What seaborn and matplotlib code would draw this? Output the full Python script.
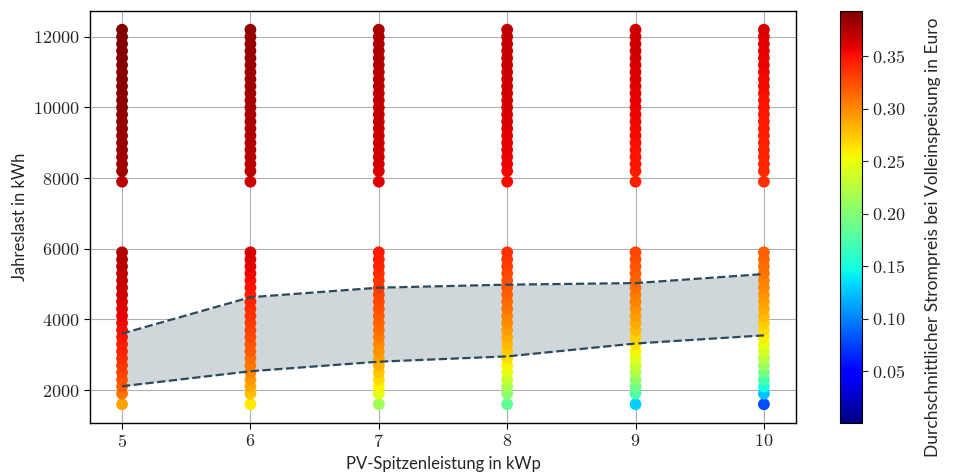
import matplotlib
matplotlib.use("Agg")
import matplotlib.pyplot as plt
import matplotlib.ticker as mticker
import numpy as np
import pandas as pd
import seaborn as sns

# ---- data ----
pv_sizes = [5, 6, 7, 8, 9, 10]

loads = [1600, 1900, 2100, 2300, 2500, 2700, 2900, 3100, 3300, 3500, 3700,
         3900, 4100, 4300, 4500, 4700, 4900, 5100, 5300, 5500, 5700, 5900,
         7900, 8200, 8400, 8600, 8800, 9000, 9200, 9400, 9600, 9800, 10000,
         10200, 10400, 10600, 10800, 11000, 11200, 11400, 11600, 11800, 12000,
         12200]

price_5 = [0.290, 0.310, 0.318, 0.324, 0.329, 0.334, 0.338, 0.342, 0.345, 0.348, 0.351,
           0.354, 0.357, 0.359, 0.362, 0.364, 0.366, 0.368, 0.370, 0.372, 0.374, 0.376,
           0.372, 0.381, 0.382, 0.382, 0.383, 0.384, 0.384, 0.385, 0.386, 0.386, 0.387,
           0.387, 0.388, 0.388, 0.389, 0.389, 0.390, 0.390, 0.391, 0.391, 0.392, 0.392]
price_6 = [0.260, 0.278, 0.287, 0.295, 0.302, 0.308, 0.313, 0.318, 0.322, 0.326, 0.330,
           0.333, 0.336, 0.339, 0.342, 0.345, 0.348, 0.351, 0.354, 0.357, 0.360, 0.363,
           0.366, 0.372, 0.373, 0.374, 0.374, 0.375, 0.376, 0.377, 0.377, 0.378, 0.379,
           0.379, 0.380, 0.381, 0.381, 0.382, 0.383, 0.383, 0.384, 0.385, 0.385, 0.386]
price_7 = [0.215, 0.245, 0.256, 0.266, 0.275, 0.283, 0.290, 0.296, 0.301, 0.306, 0.311,
           0.315, 0.319, 0.323, 0.327, 0.330, 0.333, 0.336, 0.339, 0.342, 0.345, 0.347,
           0.360, 0.362, 0.363, 0.364, 0.365, 0.366, 0.366, 0.367, 0.368, 0.369, 0.370,
           0.370, 0.371, 0.372, 0.373, 0.373, 0.374, 0.375, 0.376, 0.376, 0.377, 0.378]
price_8 = [0.185, 0.205, 0.218, 0.232, 0.245, 0.256, 0.265, 0.273, 0.280, 0.287, 0.293,
           0.299, 0.304, 0.309, 0.313, 0.317, 0.321, 0.325, 0.328, 0.331, 0.334, 0.337,
           0.352, 0.354, 0.355, 0.356, 0.357, 0.358, 0.359, 0.360, 0.361, 0.362, 0.362,
           0.363, 0.364, 0.365, 0.366, 0.366, 0.367, 0.368, 0.369, 0.369, 0.370, 0.371]
price_9 = [0.130, 0.175, 0.190, 0.205, 0.220, 0.233, 0.245, 0.255, 0.264, 0.272, 0.280,
           0.287, 0.293, 0.298, 0.303, 0.307, 0.311, 0.315, 0.319, 0.322, 0.325, 0.328,
           0.345, 0.347, 0.348, 0.349, 0.350, 0.351, 0.352, 0.353, 0.354, 0.355, 0.356,
           0.357, 0.358, 0.359, 0.360, 0.361, 0.362, 0.363, 0.364, 0.365, 0.365, 0.366]
price_10 = [0.080, 0.125, 0.150, 0.172, 0.192, 0.210, 0.225, 0.238, 0.249, 0.258, 0.266,
            0.273, 0.280, 0.286, 0.291, 0.296, 0.300, 0.304, 0.308, 0.311, 0.314, 0.317,
            0.338, 0.340, 0.341, 0.342, 0.343, 0.344, 0.345, 0.346, 0.347, 0.348, 0.349,
            0.350, 0.351, 0.352, 0.353, 0.354, 0.355, 0.356, 0.357, 0.358, 0.359, 0.361]

band_upper = [3600, 4630, 4900, 4985, 5030, 5285]
band_lower = [2110, 2535, 2805, 2955, 3320, 3550]

price_min, price_max = 0.001, 0.393

prices = [price_5, price_6, price_7, price_8, price_9, price_10]
rows = []
for pv, plist in zip(pv_sizes, prices):
    for ld, pr in zip(loads, plist):
        rows.append({"pv": pv, "load": ld, "price": pr})
df = pd.DataFrame(rows)

# ---- style ----
sns.set_style("ticks")
plt.rcParams["font.family"] = ["Lato", "DejaVu Sans"]
plt.rcParams["mathtext.fontset"] = "cm"

jet = matplotlib.colormaps["jet"]

fig = plt.figure(figsize=(9.55, 4.74), dpi=100)
ax = fig.add_axes([0.0942, 0.1076, 0.7393, 0.8692])
cax = fig.add_axes([0.8796, 0.1076, 0.0230, 0.8692])

ax.fill_between(pv_sizes, band_lower, band_upper, color="#d0d7db", zorder=1, linewidth=0)

sns.scatterplot(data=df, x="pv", y="load", hue="price", palette=jet,
                hue_norm=(price_min, price_max), s=72, edgecolor="none",
                legend=False, ax=ax, zorder=2)

ax.plot(pv_sizes, band_upper, ls="--", color="#2c4a5c", lw=1.6, zorder=3)
ax.plot(pv_sizes, band_lower, ls="--", color="#2c4a5c", lw=1.6, zorder=3)

ax.set_xticks(pv_sizes)
ax.set_yticks([2000, 4000, 6000, 8000, 10000, 12000])
ax.xaxis.set_major_formatter(mticker.FuncFormatter(lambda v, p: r"$%d$" % v))
ax.yaxis.set_major_formatter(mticker.FuncFormatter(lambda v, p: r"$%d$" % v))
ax.tick_params(labelsize=13, color="black", width=0.8, length=4)
ax.grid(True, color="#b0b0b0", lw=0.8)
ax.set_axisbelow(True)
for sp in ax.spines.values():
    sp.set_color("black")
    sp.set_linewidth(1.0)

ax.set_xlabel("PV-Spitzenleistung in kWp", fontsize=12)
ax.set_ylabel("Jahreslast in kWh", fontsize=12)

sm = plt.cm.ScalarMappable(cmap=jet, norm=plt.Normalize(price_min, price_max))
cb = fig.colorbar(sm, cax=cax)
cb.set_ticks([0.05, 0.10, 0.15, 0.20, 0.25, 0.30, 0.35])
cb.ax.yaxis.set_major_formatter(mticker.FuncFormatter(lambda v, p: r"$%.2f$" % v))
cb.ax.tick_params(labelsize=13, length=4, width=0.8)
cb.outline.set_edgecolor("black")
cb.set_label("Durchschnittlicher Strompreis bei Volleinspeisung in Euro",
             fontsize=12.5, labelpad=14, y=0.45)

fig.savefig("out.png", dpi=100)
